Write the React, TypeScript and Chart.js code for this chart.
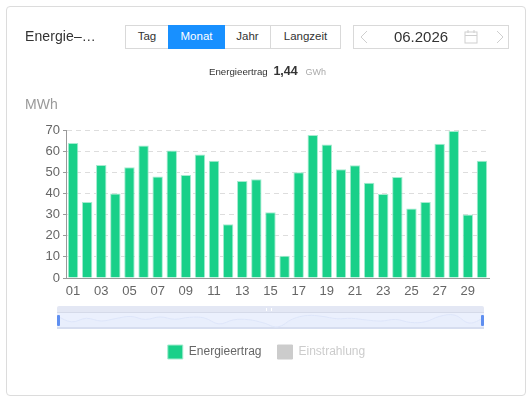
import React, { useEffect, useRef } from "react";
import { Chart, registerables } from "chart.js";

Chart.register(...registerables);

const days = ["01","02","03","04","05","06","07","08","09","10","11","12","13","14","15","16","17","18","19","20","21","22","23","24","25","26","27","28","29","30"];
const energy = [63.8,36,53.5,40,52.4,62.7,48,60.3,48.7,58.4,55.4,25.4,45.9,46.7,31.1,10.5,50,67.6,63.2,51.4,53.3,45.1,39.7,47.8,32.9,36,63.5,69.5,30,55.4];
const irradiation: number[] = [];
const periods = ["Tag", "Monat", "Jahr", "Langzeit"];
const periodWidths = [43, 56, 46, 71];

const FONT = '"Liberation Sans", Arial, sans-serif';
const GREEN = "#19d089";
const abs = (l: number, t: number, w: number, h: number): React.CSSProperties => ({ position: "absolute", left: l, top: t, width: w, height: h, boxSizing: "border-box" });

export default function App() {
  const mainRef = useRef<HTMLCanvasElement>(null);
  const zoomRef = useRef<HTMLCanvasElement>(null);

  useEffect(() => {
    const main = new Chart(mainRef.current!, {
      type: "bar",
      data: {
        labels: days,
        datasets: [
          { label: "Energieertrag", data: energy, backgroundColor: GREEN, borderColor: "#a5ecd0", borderWidth: 1, categoryPercentage: 0.78, barPercentage: 0.95 },
          { label: "Einstrahlung", data: irradiation, backgroundColor: "#cccccc", hidden: true },
        ],
      },
      options: {
        responsive: false,
        animation: false,
        layout: { padding: { left: 44, right: 43, top: 130, bottom: 32 } },
        plugins: {
          tooltip: { enabled: false },
          legend: {
            position: "bottom",
            labels: {
              boxWidth: 15,
              boxHeight: 14,
              padding: 16,
              color: "#666",
              font: { family: FONT, size: 12 },
              generateLabels: () => [
                { text: "Energieertrag", fillStyle: GREEN, strokeStyle: "#a5ecd0", lineWidth: 1, fontColor: "#666", hidden: false, datasetIndex: 0 },
                { text: "Einstrahlung", fillStyle: "#cccccc", strokeStyle: "#cccccc", lineWidth: 1, fontColor: "#ccc", hidden: false, datasetIndex: 1 },
              ],
            },
          },
        },
        scales: {
          x: {
            stacked: false,
            afterFit: (s: any) => { s.height = 51; },
            grid: { display: false, drawTicks: false },
            border: { color: "#999", width: 1 },
            ticks: {
              color: "#666",
              font: { family: FONT, size: 13 },
              autoSkip: false,
              maxRotation: 0,
              padding: 6,
              callback: (_v: any, i: number) => (i % 2 === 0 ? days[i] : ""),
            },
          },
          y: {
            min: 0,
            max: 70,
            afterFit: (s: any) => { s.width = 22; },
            grid: { color: "#dddddd", drawTicks: true, tickLength: 3, tickColor: "#999" },
            border: { color: "#999", width: 1, dash: [5, 4] },
            ticks: { stepSize: 10, color: "#666", font: { family: FONT, size: 13 }, padding: 3 },
          },
        },
      },
    } as any);

    const overview = new Chart(zoomRef.current!, {
      type: "line",
      data: {
        labels: days,
        datasets: [{ data: energy, borderColor: "#dde5f9", backgroundColor: "rgba(222,231,252,0.25)", borderWidth: 1, pointRadius: 0, tension: 0.4, fill: true }],
      },
      options: {
        responsive: false,
        animation: false,
        layout: { padding: 0 },
        plugins: { legend: { display: false }, tooltip: { enabled: false } },
        scales: { x: { display: false }, y: { display: false, min: 0, max: 80 } },
      },
    } as any);

    return () => { main.destroy(); overview.destroy(); };
  }, []);

  let bx = 125;
  return (
    <div style={{ position: "absolute", left: 0, top: 0, width: 532, height: 401, fontFamily: FONT, background: "#fff", overflow: "hidden" }}>
      <div style={{ ...abs(6, 6, 520, 390), border: "1px solid #dcdcdc", borderRadius: 4 }} />
      <canvas ref={mainRef} width={532} height={401} style={{ position: "absolute", left: 0, top: 0 }} />

      <div style={{ position: "absolute", left: 25, top: 28, fontSize: 14, color: "#333", letterSpacing: 0.1, whiteSpace: "nowrap" }}>Energie–…</div>
      {periods.map((p, i) => {
        const l = bx;
        bx += periodWidths[i];
        const on = p === "Monat";
        return (
          <div key={p} style={{ ...abs(l, 25, periodWidths[i] + (i < 3 ? 1 : 0), 24), border: "1px solid " + (on ? "#1890ff" : "#d9d9d9"), background: on ? "#1890ff" : "#fff", color: on ? "#fff" : "#333", fontSize: 11.5, lineHeight: "21px", textAlign: "center", zIndex: on ? 2 : 1 }}>{p}</div>
        );
      })}
      <div style={{ ...abs(353, 25, 156, 24), border: "1px solid #d9d9d9" }} />
      <div style={{ position: "absolute", left: 353, width: 136, top: 28, fontSize: 15, color: "#333", textAlign: "center" }}>06.2026</div>
      <svg style={{ position: "absolute", left: 353, top: 25 }} width={156} height={24} fill="none" stroke="#cfcfcf" strokeWidth={1}>
        <path d="M14 6 L8 12 L14 18" />
        <path d="M144 6 L150 12 L144 18" />
        <rect x={112} y={7} width={12} height={11} />
        <path d="M112 10.5 H124 M115 5 V8 M121 5 V8" />
      </svg>
      <div style={{ position: "absolute", left: 209, top: 63, whiteSpace: "nowrap", color: "#333", fontSize: 9.7, lineHeight: "16px" }}>
        Energieertrag <span style={{ fontSize: 12.5, fontWeight: 700, margin: "0 5px 0 3px" }}>1,44</span> <span style={{ color: "#aaa", fontSize: 9 }}>GWh</span>
      </div>
      <div style={{ position: "absolute", left: 25, top: 96, fontSize: 14, color: "#999" }}>MWh</div>

      <div style={{ ...abs(57, 306, 427, 7), background: "#e3e7f4", borderRadius: "2px 2px 0 0" }} />
      <div style={{ ...abs(57, 313, 427, 15), background: "#ebf0fd" }} />
      <div style={{ ...abs(57, 312, 427, 1), background: "#d5dae9" }} />
      <div style={{ ...abs(57, 327, 427, 2), background: "#d3daeb" }} />
      <canvas ref={zoomRef} width={427} height={16} style={{ position: "absolute", left: 57, top: 313 }} />
      <div style={{ ...abs(266, 308, 6, 3), borderLeft: "1px solid #fff", borderRight: "1px solid #fff" }} />
      <div style={{ ...abs(57, 315, 3, 11), background: "#5f8ff0", borderRadius: 1 }} />
      <div style={{ ...abs(481, 315, 3, 11), background: "#5f8ff0", borderRadius: 1 }} />
    </div>
  );
}
